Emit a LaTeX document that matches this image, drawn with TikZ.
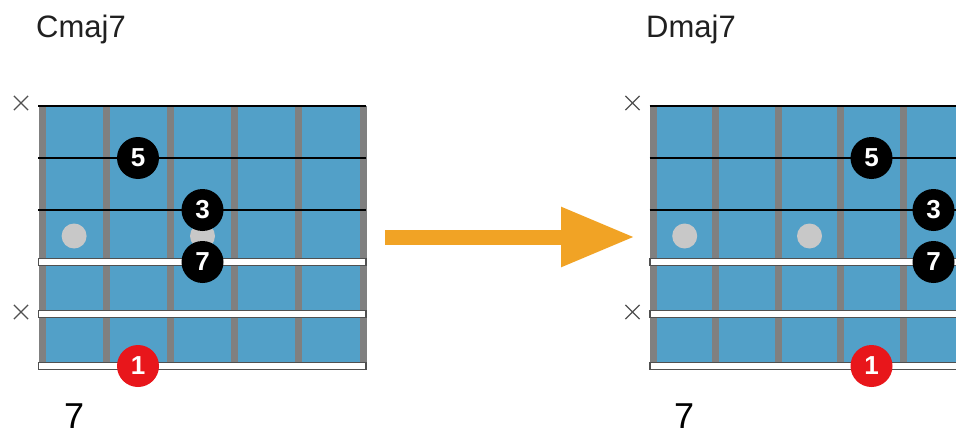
\documentclass[tikz,border=0pt]{standalone}
\usepackage{fontspec}
\setmainfont{Liberation Sans}
\usetikzlibrary{arrows.meta,shapes.misc}
\definecolor{boardblue}{HTML}{52A0C8}
\definecolor{fretgray}{HTML}{808080}
\definecolor{inlay}{HTML}{C8C8C8}
\definecolor{strout}{HTML}{505050}
\definecolor{rootred}{HTML}{E8161B}
\definecolor{arroworange}{HTML}{F1A325}
\definecolor{txt}{HTML}{202020}
\tikzset{
  finger/.style={circle, fill=black, minimum size=42pt, inner sep=0pt, text=white, font=\bfseries\fontsize{26}{26}\selectfont},
  rootdot/.style={finger, fill=rootred},
  inlaydot/.style={circle, fill=inlay, minimum size=25pt, inner sep=0pt},
  mutex/.style={cross out, draw=strout, line width=1.2pt, minimum size=13pt, inner sep=0pt},
  title/.style={anchor=base west, inner sep=0pt, text=txt, font=\fontsize{31}{31}\selectfont},
  fretnum/.style={anchor=base west, inner sep=0pt, text=black, font=\fontsize{36}{36}\selectfont},
  thinstring/.style={line width=2pt, black},
  thickstring/.style={fill=white, draw=strout, line width=1.2pt},
  bigarrow/.style={line width=15pt, arroworange, -{Triangle[length=74pt,width=56pt]}},
}
\newcommand\fretboard[4]{% #1 prefix, #2 first fret x, #3 spacing, #4 string end x
  \fill[boardblue] (#2,106) rectangle ({#2+5*#3},366);
  \foreach \i in {0,...,5}
    \fill[fretgray] ({#2+\i*#3-3.5},106) rectangle ({#2+\i*#3+3.5},366);
  \node[inlaydot] (#1i1) at ({#2+0.5*#3},236) {};
  \node[inlaydot] (#1i3) at ({#2+2.5*#3},236) {};
  \foreach \y in {106,158,210}
    \draw[thinstring] ({#2-4},\y) -- (#4,\y);
  \foreach \y in {262,314,366}
    \filldraw[thickstring] ({#2-3.5},\y-3.5) rectangle (#4,\y+3.5);
  \node[mutex] (#1x1) at ({#2-21},103) {};
  \node[mutex] (#1x5) at ({#2-21},312) {};
}
\begin{document}
\begin{tikzpicture}[x=1pt,y=-1pt]
\useasboundingbox (0,0) rectangle (956,436);
\begin{scope}
\clip (0,0) rectangle (956,436);
% left board
\fretboard{L}{42}{64.2}{366}
\node[finger] (L5) at (138,158) {5};
\node[finger] (L3) at (202.5,210) {3};
\node[finger] (L7) at (202.5,262) {7};
\node[rootdot] (L1) at (138,366) {1};
\node[title] (Lt) at (36,38) {Cmaj7};
\node[fretnum] (Ln) at (64,428) {7};
% right board
\fretboard{R}{653.5}{62.4}{970}
\node[finger] (R5) at (871.5,158) {5};
\node[finger] (R3) at (933.5,210) {3};
\node[finger] (R7) at (933.5,262) {7};
\node[rootdot] (R1) at (871.5,366) {1};
\node[title] (Rt) at (646,38) {Dmaj7};
\node[fretnum] (Rn) at (674,428) {7};
% arrow
\coordinate (as) at (385,237);
\coordinate (ae) at (635,237);
\draw[bigarrow] (as) -- (ae);
\end{scope}
\end{tikzpicture}
\end{document}
